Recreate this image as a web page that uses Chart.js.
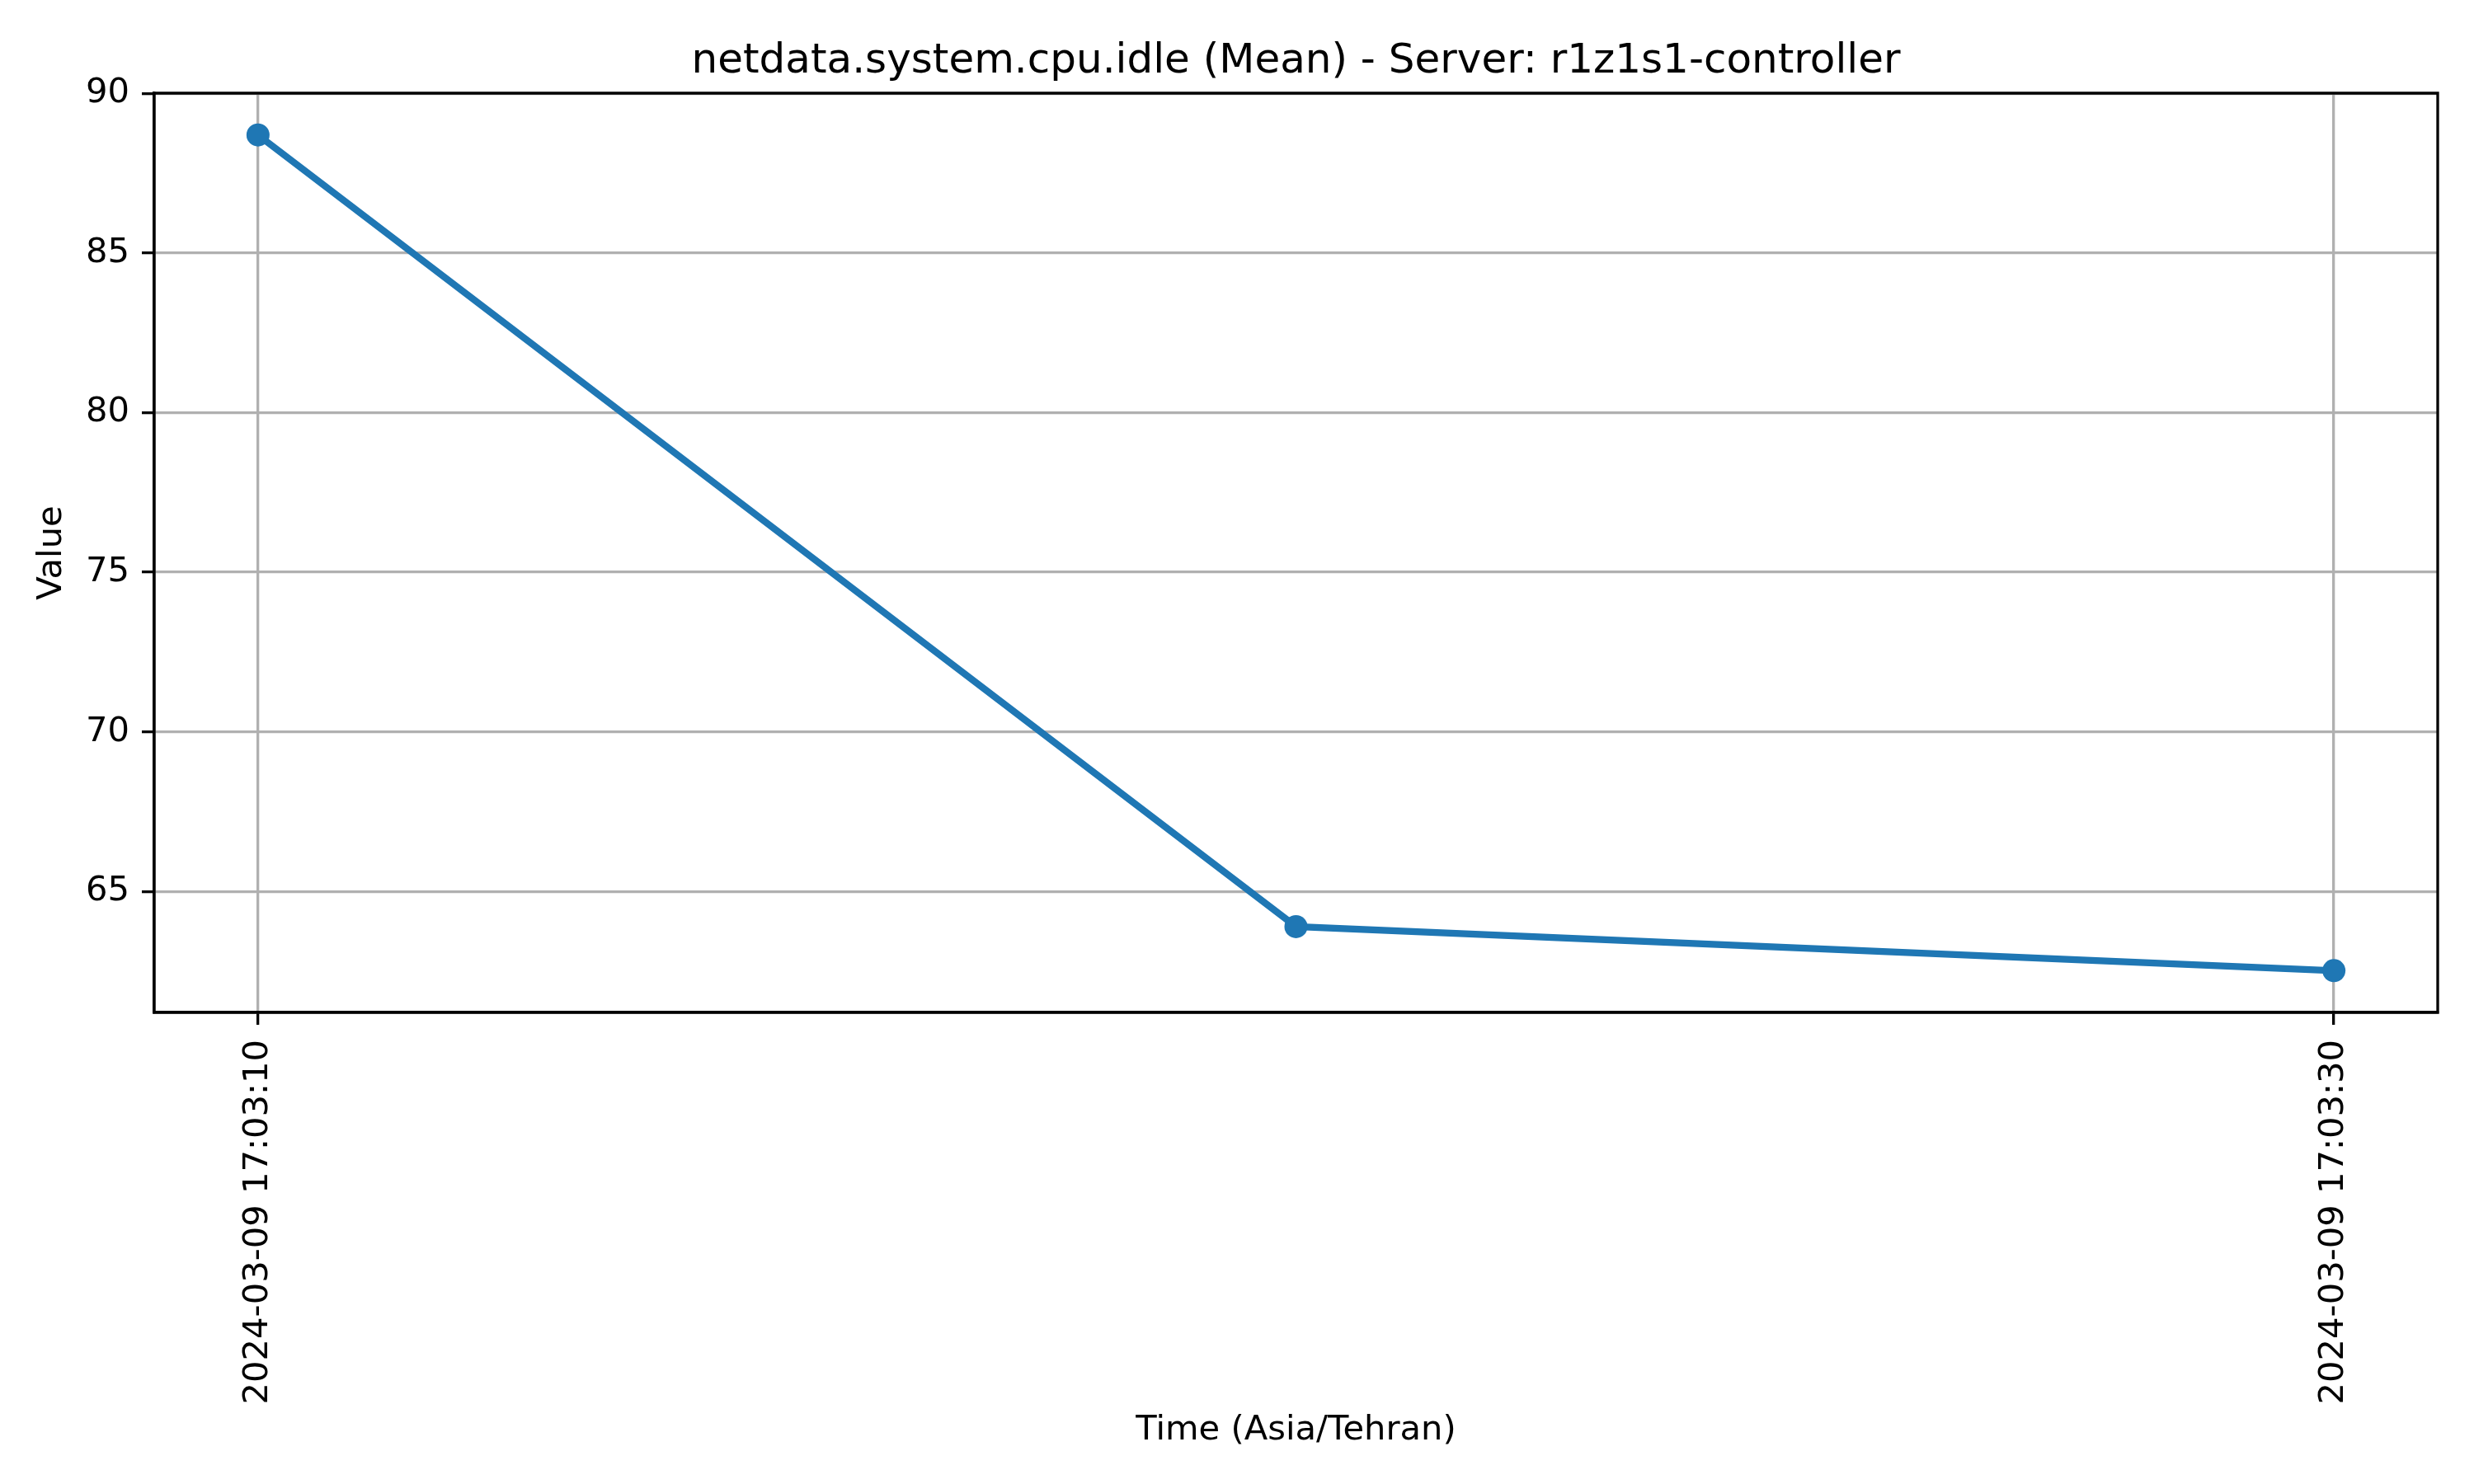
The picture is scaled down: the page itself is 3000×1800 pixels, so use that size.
<!DOCTYPE html>
<html>
<head>
<meta charset="utf-8">
<script src="https://cdn.jsdelivr.net/npm/chart.js@4.4.1/dist/chart.umd.min.js"></script>
<style>
  html, body { margin: 0; padding: 0; background: #fff; }
  #wrap { width: 3000px; height: 1800px; }
</style>
</head>
<body>
<div id="wrap"><canvas id="cpuChart" width="3000" height="1800"></canvas></div>
<script>
// data
var chartTitle = 'netdata.system.cpu.idle (Mean) - Server: r1z1s1-controller';
var timeLabels = ['2024-03-09 17:03:10', '2024-03-09 17:03:20', '2024-03-09 17:03:30'];
var idleValues = [88.70, 63.90, 62.52];
var xTickLabels = ['2024-03-09 17:03:10', '2024-03-09 17:03:30'];
var yTicks = [65, 70, 75, 80, 85, 90];

function toSec(s) {
    return Date.parse(s.replace(' ', 'T') + 'Z') / 1000;
}
var base = toSec(timeLabels[0]);
function rel(s) { return toSec(s) - base; }

var points = timeLabels.map(function (t, i) {
    return { x: rel(t), y: idleValues[i] };
});
var xTickVals = xTickLabels.map(rel);

// matplotlib style 5% margins
var xs = points.map(function (p) { return p.x; });
var xMinD = Math.min.apply(null, xs), xMaxD = Math.max.apply(null, xs);
var yMinD = Math.min.apply(null, idleValues), yMaxD = Math.max.apply(null, idleValues);
var xPad = (xMaxD - xMinD) * 0.05, yPad = (yMaxD - yMinD) * 0.05;

var FONT = 'DejaVu Sans';
Chart.defaults.font.family = FONT;
Chart.defaults.color = '#000';

// top and right spines + title centred over the plot area
var framePlugin = {
    id: 'frame',
    afterDatasetsDraw: function (chart) {
        var a = chart.chartArea, c = chart.ctx;
        c.save();
        c.strokeStyle = '#000';
        c.lineWidth = 3.3;
        c.beginPath();
        c.moveTo(a.left, a.top);
        c.lineTo(a.right, a.top);
        c.lineTo(a.right, a.bottom);
        c.lineTo(a.left, a.bottom);
        c.closePath();
        c.stroke();

        c.fillStyle = '#000';
        c.font = '50px "' + FONT + '"';
        c.textAlign = 'center';
        c.textBaseline = 'alphabetic';
        c.fillText(chartTitle, (a.left + a.right) / 2, a.top - 25);
        c.restore();
    }
};

new Chart(document.getElementById('cpuChart').getContext('2d'), {
    type: 'line',
    data: {
        datasets: [{
            data: points,
            borderColor: '#1f77b4',
            backgroundColor: '#1f77b4',
            borderWidth: 8.3,
            pointRadius: 14,
            pointBorderWidth: 0,
            pointBackgroundColor: '#1f77b4',
            tension: 0,
            clip: false
        }]
    },
    options: {
        responsive: false,
        animation: false,
        layout: { padding: { left: 0, right: 44, top: 113, bottom: 0 } },
        plugins: {
            legend: { display: false },
            tooltip: { enabled: false },
            title: { display: false }
        },
        scales: {
            x: {
                type: 'linear',
                min: xMinD - xPad,
                max: xMaxD + xPad,
                afterBuildTicks: function (axis) {
                    axis.ticks = xTickVals.map(function (v) { return { value: v }; });
                },
                afterFit: function (axis) { axis.height = 572; },
                ticks: {
                    autoSkip: false,
                    maxRotation: 90,
                    minRotation: 90,
                    padding: 18,
                    font: { size: 41.67 },
                    callback: function (v) {
                        var i = xTickVals.indexOf(v);
                        return i >= 0 ? xTickLabels[i] : '';
                    }
                },
                grid: {
                    color: '#b0b0b0',
                    lineWidth: 3.3,
                    tickColor: '#000',
                    tickLength: 15,
                    tickWidth: 3.3
                },
                border: { display: true, color: '#000', width: 3.3 },
                title: {
                    display: true,
                    text: 'Time (Asia/Tehran)',
                    font: { size: 41.67, lineHeight: 1.2 },
                    padding: { top: 4, bottom: 40 }
                }
            },
            y: {
                type: 'linear',
                min: yMinD - yPad,
                max: yMaxD + yPad,
                afterBuildTicks: function (axis) {
                    axis.ticks = yTicks.map(function (v) { return { value: v }; });
                },
                afterFit: function (axis) { axis.width = 187; },
                ticks: {
                    padding: 15,
                    font: { size: 41.67 },
                    callback: function (v) { return String(v); }
                },
                grid: {
                    color: '#b0b0b0',
                    lineWidth: 3.3,
                    tickColor: '#000',
                    tickLength: 15,
                    tickWidth: 3.3
                },
                border: { display: true, color: '#000', width: 3.3 },
                title: {
                    display: true,
                    text: 'Value',
                    font: { size: 41.67, lineHeight: 1.2 },
                    padding: { top: 38, bottom: 4 }
                }
            }
        }
    },
    plugins: [framePlugin]
});
</script>
</body>
</html>
